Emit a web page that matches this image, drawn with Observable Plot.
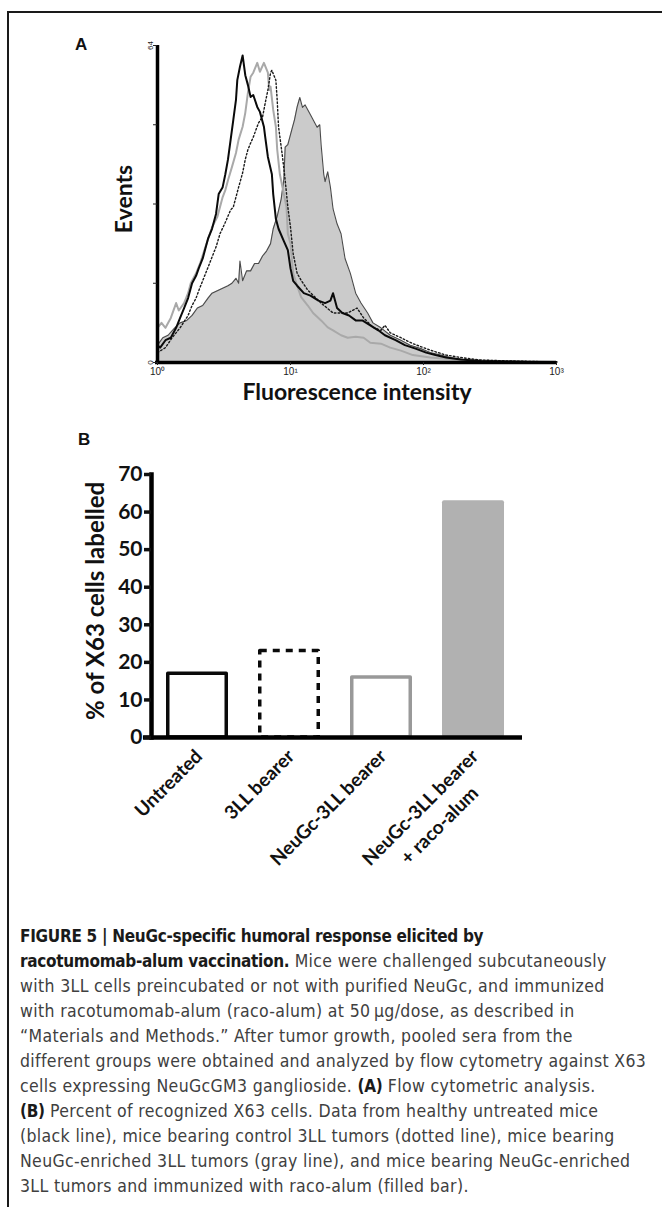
<!DOCTYPE html>
<html><head><meta charset="utf-8">
<script src="https://cdn.jsdelivr.net/npm/d3@7"></script>
<script src="https://cdn.jsdelivr.net/npm/@observablehq/plot@0.6"></script>
<style>
html,body{margin:0;padding:0;background:#fff;}
#page{position:relative;width:662px;height:1207px;overflow:hidden;background:#fff;}
#border{position:absolute;left:7px;top:11px;width:800px;height:1400px;border-left:2px solid #1a1a1a;border-top:2px solid #1a1a1a;}
.panel{position:absolute;left:0;}
.plabel{position:absolute;font-family:"Liberation Sans",Arial,sans-serif;font-weight:bold;font-size:17px;color:#111;line-height:1;}
#caption{position:absolute;left:20px;top:924px;font-family:"DejaVu Sans Condensed","Liberation Sans Narrow",sans-serif;font-size:17.5px;letter-spacing:0.35px;color:#404040;line-height:25px;white-space:nowrap;}
#caption b{color:#1a1a1a;font-size:17px;letter-spacing:-0.3px;}
</style></head>
<body><div id="page">
<div id="border"></div>
<div class="plabel" style="left:75px;top:36px;">A</div>
<div class="plabel" style="left:78px;top:431px;">B</div>
<div id="panelA" class="panel" style="top:0"></div>
<div id="panelB" class="panel" style="top:440px"></div>
<div id="caption">
<div><b>FIGURE 5 | NeuGc-specific humoral response elicited by</b></div>
<div><b>racotumomab-alum vaccination.</b> Mice were challenged subcutaneously</div>
<div>with 3LL cells preincubated or not with purified NeuGc, and immunized</div>
<div>with racotumomab-alum (raco-alum) at 50&#8201;μg/dose, as described in</div>
<div>“Materials and Methods.” After tumor growth, pooled sera from the</div>
<div>different groups were obtained and analyzed by flow cytometry against X63</div>
<div>cells expressing NeuGcGM3 ganglioside. <b>(A)</b> Flow cytometric analysis.</div>
<div><b>(B)</b> Percent of recognized X63 cells. Data from healthy untreated mice</div>
<div>(black line), mice bearing control 3LL tumors (dotted line), mice bearing</div>
<div>NeuGc-enriched 3LL tumors (gray line), and mice bearing NeuGc-enriched</div>
<div>3LL tumors and immunized with raco-alum (filled bar).</div>
</div>
</div>
<script>
// ---------- Panel A: flow cytometry histograms (x in log10 decades, y = events) ----------
const histDecadeTicks = [1, 10, 100, 1000];
const histTickLabels = ["10⁰", "10¹", "10²", "10³"];
const eventTicks = [0, 16, 32, 48, 64];
const eventTickLabels = ["0", "", "", "", "64"];

const untreatedLog = [0,0.02,0.06,0.1,0.14,0.17,0.2,0.23,0.26,0.29,0.31,0.34,0.36,0.38,0.41,0.44,0.46,0.49,0.51,0.53,0.55,0.57,0.59,0.6,0.62,0.64,0.66,0.68,0.7,0.72,0.75,0.77,0.8,0.81,0.83,0.86,0.87,0.89,0.91,0.95,0.98,1.0,1.02,1.05,1.1,1.15,1.21,1.26,1.3,1.32,1.35,1.39,1.44,1.49,1.54,1.6,1.66,1.71,1.79,1.86,1.94,2.02,2.09,2.17,2.28,2.43,2.6,2.8,3.0];
const untreatedEvents = [3.5,3,4.5,5,7,9,11,13,16,17.5,19,21,23,25,27,30,34,35.4,38,41,45,49,53,57,59.7,62,58,56,53.6,54,51.6,50.6,47.6,45.5,41.5,38,34,29,27,24.5,22.7,19,16.5,15.5,14,13.5,12.5,12,12.5,14,11,10,9.5,8.5,8.5,7.5,6.5,5.5,4.5,3.5,2.8,2,1.5,1,0.6,0.3,0.2,0.1,0.1];

const neugcLog = [0,0.03,0.06,0.1,0.14,0.16,0.2,0.23,0.25,0.29,0.32,0.36,0.41,0.45,0.49,0.51,0.53,0.56,0.59,0.61,0.64,0.66,0.68,0.7,0.72,0.75,0.77,0.8,0.83,0.84,0.85,0.87,0.89,0.9,0.92,0.95,0.97,0.98,1.0,1.02,1.05,1.08,1.13,1.17,1.23,1.28,1.32,1.38,1.43,1.49,1.55,1.6,1.68,1.75,1.83,1.92,2.05,2.28,2.58,3.0];
const neugcEvents = [7,8,7,9,12,10.5,12,14,16,18,20,23.3,27.3,29.4,33.4,34.8,36.8,39.5,42.3,45,47.6,50.4,54.5,57.7,58.5,60.5,58.7,60.5,58.5,55,55.7,51,47.6,43,38,34,31.4,26,24,18,15.5,13.2,11.5,10,8.5,7.1,6.5,5.5,5,5.2,5,4,3.8,3,2.4,1.5,1,0.5,0.3,0.1];

const bearerLog = [0,0.06,0.11,0.17,0.23,0.26,0.29,0.32,0.35,0.38,0.41,0.44,0.47,0.51,0.55,0.57,0.59,0.61,0.64,0.66,0.68,0.7,0.72,0.76,0.79,0.81,0.83,0.85,0.86,0.89,0.9,0.91,0.94,0.96,0.98,1.0,1.02,1.05,1.08,1.13,1.23,1.32,1.43,1.5,1.55,1.62,1.68,1.71,1.75,1.83,1.92,2.05,2.17,2.28,2.43,2.66,3.0];
const bearerEvents = [2,3,5,7,9.5,11.5,13,15.2,17.2,19.2,21.3,23.3,26,28.3,30.8,31.4,33.4,35.4,38.3,41,43,44.3,45.5,48.4,49.6,52.4,55,58.5,59,57,53,47.6,41.5,36.8,31.4,27.3,22,18,16.6,14.6,12,10,10,11,9,7.1,6.5,7.5,6,5,3.8,2.5,1.5,1,0.5,0.3,0.1];

const racoLog = [0,0.04,0.08,0.13,0.17,0.22,0.26,0.3,0.34,0.38,0.41,0.45,0.49,0.53,0.56,0.59,0.61,0.62,0.64,0.67,0.7,0.73,0.76,0.79,0.82,0.85,0.87,0.9,0.93,0.95,0.96,0.98,1.01,1.03,1.05,1.07,1.09,1.11,1.15,1.18,1.2,1.22,1.23,1.25,1.26,1.28,1.3,1.32,1.35,1.38,1.41,1.45,1.49,1.53,1.58,1.62,1.68,1.75,1.83,1.9,1.98,2.05,2.13,2.2,2.32,2.43,2.73,3.0];
const racoEvents = [3.5,5,5.5,7,8,8.5,9.5,11,11.5,13,14,14.5,15,15.5,16,17,16,20.5,16.5,18.5,18.5,20,20,21.5,22.5,24,27,29.5,33,37,43.5,44,47,49,51.6,53.5,51.5,52,50,48.5,47.5,48,44,38,36.5,38.5,35.4,31,28,26,21,18,14,12,10,8,7,5.5,4.5,3.5,2.8,2,1.5,1,0.5,0.2,0.1,0.1];

// ---------- Panel B: % of X63 cells labelled ----------
const groups = ["Untreated", "3LL bearer", "NeuGc-3LL bearer", "NeuGc-3LL bearer + raco-alum"];
const labelled = [17, 23, 16, 63];
const groupLabelLine1 = ["Untreated", "3LL bearer", "NeuGc-3LL bearer", "NeuGc-3LL bearer"];
const groupLabelLine2 = ["", "", "", "+ raco-alum"];
const percentTicks = [0, 10, 20, 30, 40, 50, 60, 70];

// ---------- build ----------
const toRows = (logs, events) => logs.map((u, i) => ({fluor: Math.pow(10, u), events: events[i]}));
const untreated = toRows(untreatedLog, untreatedEvents);
const neugc = toRows(neugcLog, neugcEvents);
const bearer = toRows(bearerLog, bearerEvents);
const raco = toRows(racoLog, racoEvents);

const calibri = "Lato, 'Open Sans', sans-serif";

const plotA = Plot.plot({
  width: 662, height: 420,
  marginTop: 45, marginBottom: 58, marginLeft: 157, marginRight: 106,
  style: {fontFamily: "'Liberation Sans', Arial, sans-serif", fontSize: "10px", color: "#222", background: "transparent", overflow: "visible"},
  x: {type: "log", domain: [1, 1000]},
  y: {domain: [0, 64]},
  marks: [
    Plot.areaY(raco, {x: "fluor", y: "events", fill: "#cbcbcb"}),
    Plot.lineY(raco, {x: "fluor", y: "events", stroke: "#4a4a4a", strokeWidth: 1.1}),
    Plot.lineY(neugc, {x: "fluor", y: "events", stroke: "#a9a9a9", strokeWidth: 2}),
    Plot.lineY(bearer, {x: "fluor", y: "events", stroke: "#1a1a1a", strokeWidth: 1.4, strokeDasharray: "1.6,2.2"}),
    Plot.lineY(untreated, {x: "fluor", y: "events", stroke: "#0a0a0a", strokeWidth: 2}),
    Plot.ruleX([1], {stroke: "#000", strokeWidth: 3.5}),
    Plot.ruleY([0], {stroke: "#000", strokeWidth: 3.5, insetLeft: -2}),
    Plot.axisX({ticks: histDecadeTicks, tickFormat: d => histTickLabels[histDecadeTicks.indexOf(d)], tickSize: 3, tickPadding: 2, label: null}),
    Plot.axisY({ticks: eventTicks, tickFormat: d => eventTickLabels[eventTicks.indexOf(d)], tickSize: 4, tickPadding: 1, tickRotate: -90, fontSize: 8, label: null}),
    Plot.text(["Events"], {frameAnchor: "left", textAnchor: "middle", rotate: -90, dx: -33, dy: -5, fontSize: 23, fontWeight: "bold", fontFamily: calibri, fill: "#111"}),
    Plot.text(["Fluorescence intensity"], {frameAnchor: "bottom", textAnchor: "middle", dy: 37, fontSize: 23, fontWeight: "bold", fontFamily: calibri, fill: "#111"})
  ]
});
document.getElementById("panelA").append(plotA);

const barData = groups.map((g, i) => ({group: g, value: labelled[i]}));
const plotB = Plot.plot({
  width: 662, height: 460,
  marginTop: 34, marginBottom: 163, marginLeft: 151, marginRight: 143,
  style: {fontFamily: calibri, fontWeight: "bold", fontSize: "21px", color: "#111", background: "transparent", overflow: "visible"},
  x: {domain: groups, paddingInner: 0.326, paddingOuter: 0.16, axis: null},
  y: {domain: [0, 70], axis: null},
  marks: [
    Plot.barY(barData, {filter: d => d.group === groups[3], x: "group", y: "value", fill: "#b1b1b1", rx: 2}),
    Plot.barY(barData, {filter: d => d.group === groups[0], x: "group", y: "value", fill: "none", stroke: "#0a0a0a", strokeWidth: 3.5, insetLeft: 1.75, insetRight: 1.75, strokeLinejoin: "round"}),
    Plot.barY(barData, {filter: d => d.group === groups[1], x: "group", y: "value", fill: "none", stroke: "#0a0a0a", strokeWidth: 3.5, insetLeft: 1.75, insetRight: 1.75, strokeDasharray: "7,6", strokeLinejoin: "round"}),
    Plot.barY(barData, {filter: d => d.group === groups[2], x: "group", y: "value", fill: "none", stroke: "#999", strokeWidth: 3.5, insetLeft: 1.75, insetRight: 1.75, strokeLinejoin: "round"}),
    Plot.ruleY([0], {stroke: "#000", strokeWidth: 4.5, insetLeft: -8, insetRight: -3}),
    Plot.frame({anchor: "left", stroke: "#000", strokeWidth: 4.5}),
    Plot.axisY({ticks: percentTicks, tickSize: 7, strokeWidth: 3.5, tickPadding: 2, label: null}),
    Plot.text(["% of X63 cells labelled"], {frameAnchor: "left", textAnchor: "middle", rotate: -90, dx: -55, dy: -5, fontSize: 24}),
    Plot.text(barData, {x: "group", text: (d, i) => groupLabelLine1[i], frameAnchor: "bottom", textAnchor: "end", rotate: -45, dx: 6, dy: 20, fontSize: 19}),
    Plot.text(barData, {x: "group", text: (d, i) => groupLabelLine2[i], frameAnchor: "bottom", textAnchor: "end", rotate: -45, dx: 6, dy: 57, fontSize: 19})
  ]
});
document.getElementById("panelB").append(plotB);
</script>
</body></html>
